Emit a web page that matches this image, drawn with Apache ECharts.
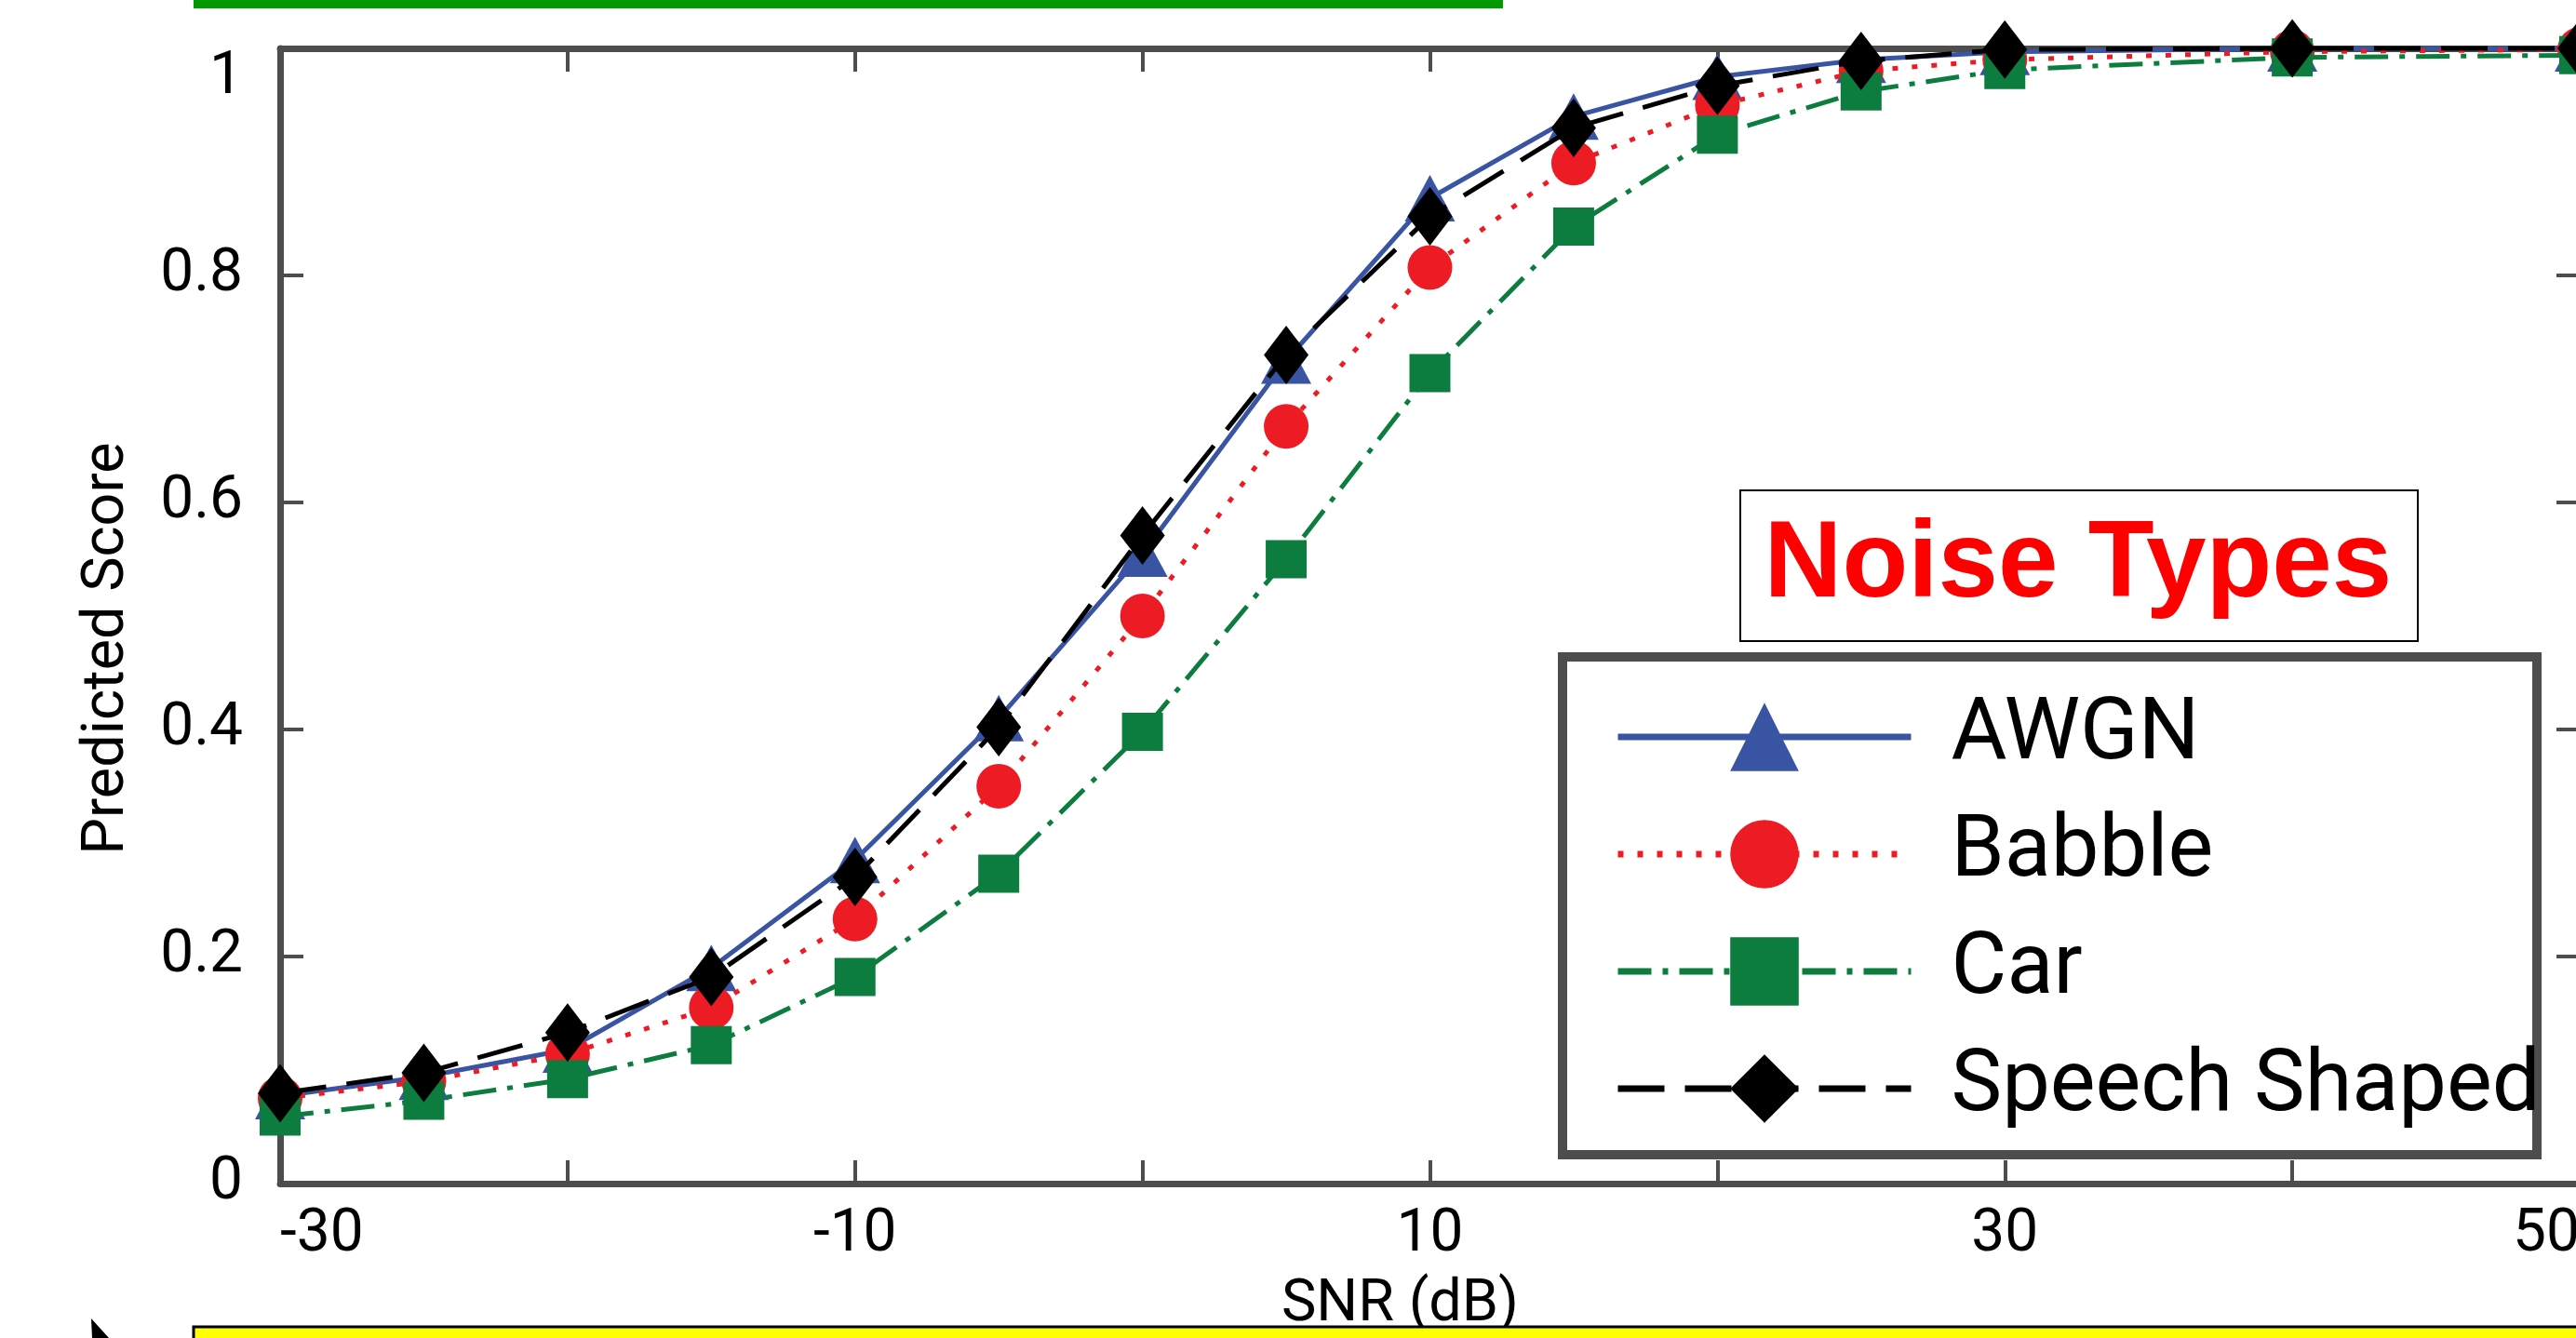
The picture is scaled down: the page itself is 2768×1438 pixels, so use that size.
<!DOCTYPE html>
<html>
<head>
<meta charset="utf-8">
<script src="https://cdn.jsdelivr.net/npm/echarts@6/dist/echarts.min.js"></script>
<style>
  html, body { margin: 0; padding: 0; background: #fff; }
  #chart { width: 2768px; height: 1438px; }
</style>
</head>
<body>
<div id="chart"></div>
<script>
// SNR in dB, one point per marker
const snr = [-30, -25, -20, -15, -10, -5, 0, 5, 10, 15, 20, 25, 30, 40, 50];
const awgn = [0.077, 0.094, 0.118, 0.19, 0.285, 0.41, 0.555, 0.725, 0.868, 0.94, 0.975, 0.99, 0.997, 1.0, 1.0];
const babble = [0.075, 0.09, 0.114, 0.155, 0.233, 0.35, 0.5, 0.667, 0.807, 0.899, 0.95, 0.98, 0.99, 0.997, 0.999];
const car = [0.059, 0.073, 0.092, 0.122, 0.182, 0.273, 0.398, 0.55, 0.714, 0.843, 0.924, 0.962, 0.981, 0.992, 0.994];
const speech = [0.0795, 0.0975, 0.133, 0.182, 0.27, 0.402, 0.571, 0.73, 0.852, 0.93, 0.967, 0.989, 0.999, 1.0, 1.0];
const seriesNames = ['AWGN', 'Babble', 'Car', 'Speech Shaped'];
const xTickLabels = ['-30', '-10', '10', '30', '50'];

const axisColor = '#4d4d4d';
const tickFont = 'Roboto';

const pts = (ys) => snr.map((x, i) => [x, ys[i]]);

const myChart = echarts.init(document.getElementById('chart'));

const axisLine = { onZero: false, lineStyle: { color: axisColor, width: 7 } };
const axisTick = { inside: true, length: 25, lineStyle: { color: axisColor, width: 4 } };

const option = {
  animation: false,
  backgroundColor: '#fff',
  grid: { left: 301, right: -4, top: 52, bottom: 166, containLabel: false, outerBoundsMode: 'none' },
  xAxis: [
    {
      type: 'value', position: 'bottom', min: -30, max: 50, interval: 10,
      axisLine: axisLine, axisTick: axisTick, splitLine: { show: false },
      name: 'SNR (dB)', nameLocation: 'middle', nameGap: 100,
      nameTextStyle: { fontFamily: tickFont, fontSize: 63, color: '#000', padding: [0, 64, 0, 0] },
      axisLabel: {
        fontFamily: tickFont, fontSize: 64, color: '#000', margin: 24,
        alignMinLabel: 'left', alignMaxLabel: 'right',
        formatter: (v) => xTickLabels.indexOf(String(v)) >= 0 ? String(v) : ''
      }
    },
    {
      type: 'value', position: 'top', min: -30, max: 50, interval: 10,
      axisLine: axisLine, axisTick: axisTick, splitLine: { show: false },
      axisLabel: { show: false }
    }
  ],
  yAxis: [
    {
      type: 'value', position: 'left', min: 0, max: 1, interval: 0.2,
      name: 'Predicted Score', nameLocation: 'middle', nameGap: 153,
      nameTextStyle: { fontFamily: tickFont, fontSize: 63, color: '#000', padding: [0, 70, 0, 0] },
      axisLine: axisLine, axisTick: axisTick, splitLine: { show: false },
      axisLabel: { fontFamily: tickFont, fontSize: 64, color: '#000', margin: 40, verticalAlignMaxLabel: 'top' }
    },
    {
      type: 'value', position: 'right', min: 0, max: 1, interval: 0.2,
      axisLine: axisLine, axisTick: axisTick, splitLine: { show: false },
      axisLabel: { show: false }
    }
  ],
  legend: {
    orient: 'vertical', left: 1730, top: 741, selectedMode: false,
    itemWidth: 315, itemHeight: 92, itemGap: 34, z: 10,
    lineStyle: { width: 7 },
    textStyle: { fontFamily: 'Roboto', fontSize: 92, color: '#000', padding: [0, 0, 0, 38] },
    data: seriesNames
  },
  graphic: [
    // green strip at the top edge
    { type: 'rect', shape: { x: 208, y: 0, width: 1407, height: 9 }, style: { fill: '#009900' }, z: 20 },
    // yellow box at the bottom edge
    { type: 'rect', shape: { x: 208, y: 1426, width: 2600, height: 20 }, style: { fill: '#ffff00', stroke: '#000', lineWidth: 3 }, z: 20 },
    { type: 'polygon', shape: { points: [[98, 1417], [99, 1438], [117, 1438]] }, style: { fill: '#000' }, z: 20 },
    // legend frame
    { type: 'rect', shape: { x: 1679, y: 706, width: 1047, height: 535 }, style: { fill: '#fff', stroke: axisColor, lineWidth: 10 }, z: 5 },
    // "Noise Types" label box
    { type: 'rect', shape: { x: 1870, y: 527, width: 728, height: 162 }, style: { fill: '#fff', stroke: '#000', lineWidth: 2 }, z: 5 },
    { type: 'text', x: 2233, y: 609, style: { text: 'Noise Types', fill: '#ff0000', font: 'bold 116px "Liberation Sans", Arial, sans-serif', align: 'center', verticalAlign: 'middle' }, z: 6 }
  ],
  series: [
    {
      name: 'AWGN', type: 'line', data: pts(awgn), clip: false, z: 2,
      symbol: 'triangle', symbolSize: [54, 50], showAllSymbol: true,
      itemStyle: { color: '#3a54a4' },
      lineStyle: { color: '#3a54a4', width: 5, type: 'solid' },
      emphasis: { disabled: true }
    },
    {
      name: 'Babble', type: 'line', data: pts(babble), clip: false, z: 3,
      symbol: 'circle', symbolSize: 48, showAllSymbol: true,
      itemStyle: { color: '#ed1c24' },
      lineStyle: { color: '#ed1c24', width: 5, type: [6, 15] },
      emphasis: { disabled: true }
    },
    {
      name: 'Car', type: 'line', data: pts(car), clip: false, z: 4,
      symbol: 'rect', symbolSize: [44, 41], showAllSymbol: true,
      itemStyle: { color: '#0c7d3e' },
      lineStyle: { color: '#0c7d3e', width: 5, type: [36, 12, 6, 12] },
      emphasis: { disabled: true }
    },
    {
      name: 'Speech Shaped', type: 'line', data: pts(speech), clip: false, z: 5,
      symbol: 'diamond', symbolSize: [48, 63], showAllSymbol: true,
      itemStyle: { color: '#000' },
      lineStyle: { color: '#000', width: 5, type: [50, 22] },
      emphasis: { disabled: true }
    }
  ]
};

myChart.setOption(option);
</script>
</body>
</html>
